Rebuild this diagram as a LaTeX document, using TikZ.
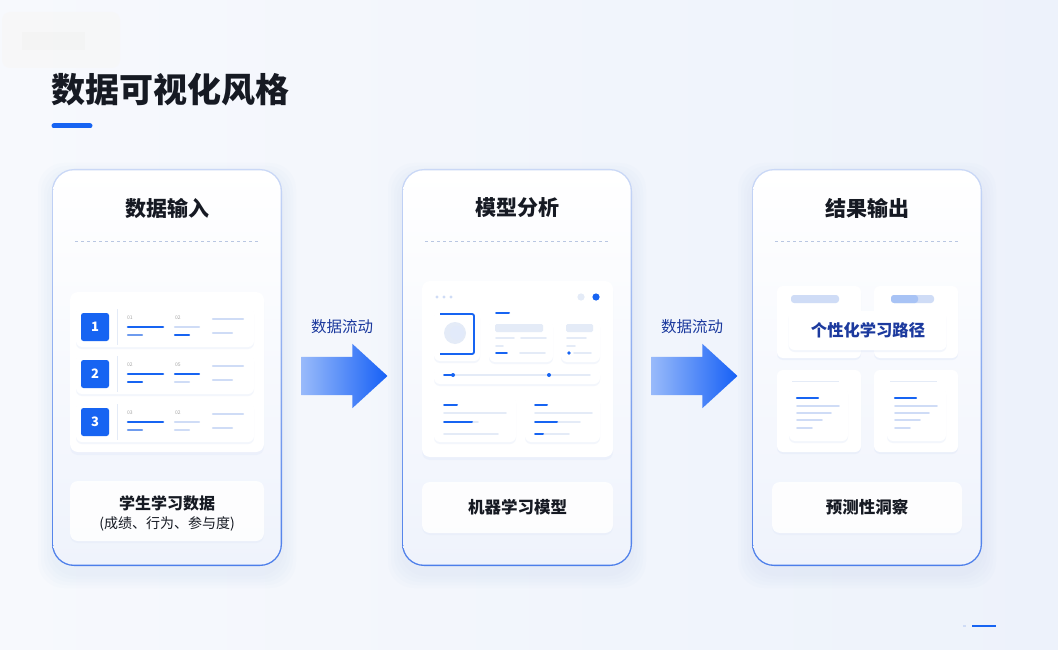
\documentclass[tikz,border=0pt]{standalone}
\usepackage{fontspec}
\setmainfont{Noto Sans CJK SC}
\usetikzlibrary{positioning,calc,shapes.arrows,shadows}

\definecolor{bgl}{HTML}{F7F9FD}
\definecolor{bgr}{HTML}{EDF2FB}
\definecolor{edgetop}{HTML}{CAD8F6}
\definecolor{edgebot}{HTML}{4C7EEA}
\definecolor{cardbot}{HTML}{EFF3FC}
\definecolor{glowc}{HTML}{C9D7F3}
\definecolor{mainblue}{HTML}{1764F2}
\definecolor{midblue}{HTML}{6E9BEE}
\definecolor{lite}{HTML}{CFDCF6}
\definecolor{pale}{HTML}{E4EBF7}
\definecolor{sepc}{HTML}{B9C7E2}
\definecolor{inkc}{HTML}{161A23}
\definecolor{navy}{HTML}{1C3A9E}
\definecolor{arrowl}{HTML}{98BAFA}
\definecolor{arrowr}{HTML}{1660F6}

\begin{document}
\begin{tikzpicture}[x=1pt, y=-1pt,
  cardedge/.style={rounded corners=22, minimum width=230, minimum height=397, inner sep=0, top color=edgetop, bottom color=edgebot, draw=none},
  cardbody/.style={rounded corners=21, minimum width=227.4, minimum height=394.4, inner sep=0, top color=white, bottom color=cardbot, draw=none},
  glow/.style={fill=glowc, opacity=0.06, rounded corners=26},
  cardtitle/.style={font=\fontsize{21}{24}\selectfont\bfseries, text=inkc, inner sep=0},
  sep/.style={draw=sepc, dash pattern=on 3pt off 3pt, line width=0.8pt},
  panel/.style={fill=white, draw=none, rounded corners=8, inner sep=0, drop shadow={shadow xshift=0pt, shadow yshift=-3pt, opacity=0.18, fill=glowc}},
  tile/.style={fill=white, draw=none, rounded corners=6, inner sep=0, drop shadow={shadow xshift=0pt, shadow yshift=-2pt, opacity=0.22, fill=glowc}},
  outbox/.style={fill=white, draw=none, rounded corners=8, inner sep=0, opacity=0.9, drop shadow={shadow xshift=0pt, shadow yshift=-2pt, opacity=0.15, fill=glowc}},
  numbox/.style={fill=mainblue, rounded corners=2.5, minimum size=28, inner sep=0, text=white, font=\fontsize{13}{13}\selectfont\bfseries},
  bar/.style={line width=2.6pt, line cap=round},
  flowarrow/.style={single arrow, draw=none, left color=arrowl, right color=arrowr, minimum height=86, inner xsep=0, inner ysep=19, single arrow head extend=13, single arrow tip angle=85},
  flowlabel/.style={font=\fontsize{15.5}{16}\selectfont, text=navy, inner sep=0},
  tiny/.style={font=\fontsize{5}{5}\selectfont, text=gray!70, inner sep=0}]

  % page and background
  \useasboundingbox (0,0) rectangle (1058,650);
  \shade[left color=bgl, right color=bgr] (0,0) rectangle (1058,650);
  \fill[black!3, opacity=0.7, rounded corners=8] (2,12) rectangle (120,68);
  \fill[black!5, opacity=0.6] (22,32) rectangle (85,50);

  % heading
  \node[anchor=west, inner sep=0, font=\fontsize{34}{38}\selectfont\bfseries, text=inkc] (head) at (51,90) {数据可视化风格};
  \draw[mainblue, line width=5pt, line cap=round] (54,126) -- (90,126);

  % the three cards
  \foreach \i/\cx/\ttl in {1/167/数据输入, 2/517/模型分析, 3/867/结果输出}
  {
    \foreach \g in {2,5,8,11,14}
      \fill[glow] (\cx-115-\g,169-\g+8) rectangle (\cx+115+\g,566+\g+8);
    \node[cardedge] (edge\i) at (\cx,367.5) {};
    \node[cardbody] (card\i) at (\cx,367.5) {};
    \node[cardtitle] (title\i) at (\cx,208) {\ttl};
    \draw[sep] (\cx-92,241) -- (\cx+92,241);
  }

  % arrows between cards
  \node[flowarrow] (flow1) at ($(card1.east)!0.5!(card2.west)+(-8,8.5)$) {};
  \node[flowarrow] (flow2) at ($(card2.east)!0.5!(card3.west)+(-8,8.5)$) {};
  \node[flowlabel] (lab1) at ($(flow1)+(8,-49)$) {数据流动};
  \node[flowlabel] (lab2) at ($(flow2)+(8,-49)$) {数据流动};

  % card 1: input table
  \node[panel, minimum width=194, minimum height=160] (inp) at (167,372) {};
  \foreach \r/\y/\ca/\cb/\cc/\cd/\la/\lb in {1/327/mainblue/midblue/lite/mainblue/01/02,
                                             2/374/mainblue/mainblue/mainblue/lite/02/05,
                                             3/422/mainblue/midblue/lite/lite/03/02}
  {
    \node[tile, minimum width=178, minimum height=40] (row\r) at (165,\y) {};
    \node[numbox] (num\r) at (95,\y) {\r};
    \draw[pale, line width=0.6pt] (117,\y-18) -- (117,\y+18);
    \node[tiny, anchor=west] at (127,\y-9) {\la};
    \node[tiny, anchor=west] at (175,\y-9) {\lb};
    \draw[bar, \ca] (128,\y) -- (163,\y);
    \draw[bar, \cb, line width=2.2pt] (128,\y+8) -- (142,\y+8);
    \draw[bar, \cc, line width=2.2pt] (175,\y) -- (199,\y);
    \draw[bar, \cd, line width=2.2pt] (175,\y+8) -- (189,\y+8);
    \draw[bar, lite, line width=2.2pt] (213,\y-8) -- (243,\y-8);
    \draw[bar, lite, line width=2.2pt] (213,\y+6) -- (232,\y+6);
  }
  \node[outbox, minimum width=194, minimum height=60] (out1) at (167,511) {};
  \node[inner sep=0, font=\fontsize{16}{18}\selectfont\bfseries, text=inkc] (res1) at (167,503) {学生学习数据};
  \node[inner sep=0, font=\fontsize{14}{16}\selectfont, text=inkc] (res1b) at (167,524) {(成绩、行为、参与度)};

  % card 2: model dashboard
  \node[panel, minimum width=191, minimum height=176] (dash) at (517.5,369) {};
  \foreach \x in {437,444,451}
    \fill[lite] (\x,297) circle (1.7);
  \fill[pale] (581,297) circle (3.6);
  \fill[mainblue] (596,297) circle (3.6);
  \node[tile, minimum width=46, minimum height=50] (icon) at (457,336) {};
  \fill[pale] (455,333) circle (11);
  \fill[lite!60] (457,333) circle (7);
  \draw[mainblue, line width=1.8pt, rounded corners=2] (440,314) -- (474,314) -- (474,354) -- (440,354);
  \node[tile, minimum width=64, minimum height=42] (stat1) at (521,341) {};
  \draw[bar, mainblue, line width=2pt] (496,313) -- (509,313);
  \fill[pale, rounded corners=1.5] (495,324) rectangle (543,332);
  \draw[bar, pale, line width=1.6pt] (496,338) -- (514,338);
  \draw[bar, pale, line width=1.6pt] (521,338) -- (546,338);
  \draw[bar, pale, line width=1.6pt] (496,346) -- (503,346);
  \draw[bar, mainblue, line width=1.6pt] (496,353) -- (507,353);
  \draw[bar, pale, line width=1.6pt] (520,353) -- (545,353);
  \node[tile, minimum width=39, minimum height=42] (stat2) at (580.5,341) {};
  \fill[pale, rounded corners=1.5] (566,324) rectangle (593,332);
  \draw[bar, pale, line width=1.6pt] (567,338) -- (586,338);
  \draw[bar, pale, line width=1.6pt] (567,346) -- (575,346);
  \fill[mainblue] (569,353) circle (1.8);
  \draw[bar, pale, line width=1.6pt] (574,353) -- (591,353);
  \node[tile, minimum width=166, minimum height=16] (track) at (517,376) {};
  \draw[bar, pale, line width=1.4pt] (444,375) -- (590,375);
  \draw[bar, mainblue, line width=1.6pt] (444,375) -- (453,375);
  \fill[mainblue] (453,375) circle (2);
  \fill[mainblue] (549,375) circle (2);
  \node[tile, minimum width=82, minimum height=46] (sub1) at (475,419) {};
  \draw[bar, mainblue, line width=2pt] (444,405) -- (457,405);
  \draw[bar, pale, line width=1.6pt] (444,413) -- (506,413);
  \draw[bar, pale, line width=1.6pt] (444,422) -- (478,422);
  \draw[bar, mainblue, line width=2pt] (444,422) -- (472,422);
  \draw[bar, pale, line width=1.6pt] (444,434) -- (498,434);
  \node[tile, minimum width=75, minimum height=46] (sub2) at (562.5,419) {};
  \draw[bar, mainblue, line width=2pt] (535,405) -- (547,405);
  \draw[bar, pale, line width=1.6pt] (535,413) -- (592,413);
  \draw[bar, pale, line width=1.6pt] (535,422) -- (580,422);
  \draw[bar, mainblue, line width=2pt] (535,422) -- (557,422);
  \draw[bar, pale, line width=1.6pt] (535,434) -- (569,434);
  \draw[bar, mainblue, line width=2pt] (535,434) -- (543,434);
  \node[outbox, minimum width=191, minimum height=51] (out2) at (517.5,507.5) {};
  \node[inner sep=0, font=\fontsize{16.5}{18}\selectfont\bfseries, text=inkc] (res2) at (517.5,507) {机器学习模型};

  % card 3: output tiles
  \node[tile, minimum width=84, minimum height=72] (t1) at (819,322) {};
  \node[tile, minimum width=84, minimum height=72] (t2) at (916,322) {};
  \node[tile, minimum width=84, minimum height=82] (t3) at (819,411) {};
  \node[tile, minimum width=84, minimum height=82] (t4) at (916,411) {};
  \fill[lite, rounded corners=3] (791,295) rectangle (839,303);
  \fill[lite, rounded corners=3] (891,295) rectangle (934,303);
  \fill[midblue!60, rounded corners=3] (891,295) rectangle (918,303);
  \node[tile, minimum width=158, minimum height=39] (path) at (867.5,330.5) {};
  \node[inner sep=0, font=\fontsize{16.3}{18}\selectfont\bfseries, text=navy] (pathtxt) at (868,330) {个性化学习路径};
  \foreach \n/\x in {1/789, 2/887}
  {
    \draw[pale, line width=0.8pt] (\x+3,381) -- (\x+50,381);
    \node[tile, minimum width=59, minimum height=54] (doc\n) at (\x+29.5,414) {};
    \draw[bar, mainblue, line width=2.2pt] (\x+8,398) -- (\x+29,398);
    \draw[bar, lite, line width=1.6pt] (\x+8,406) -- (\x+50,406);
    \draw[bar, lite, line width=1.6pt] (\x+8,413) -- (\x+42,413);
    \draw[bar, lite, line width=1.6pt] (\x+8,420) -- (\x+33,420);
    \draw[bar, lite, line width=1.6pt] (\x+8,428) -- (\x+23,428);
  }
  \node[outbox, minimum width=190, minimum height=51] (out3) at (867,507.5) {};
  \node[inner sep=0, font=\fontsize{16.5}{18}\selectfont\bfseries, text=inkc] (res3) at (867,507) {预测性洞察};

  % footer mark
  \draw[lite, line width=2pt] (963,626) -- (966,626);
  \draw[mainblue, line width=2pt] (972,626) -- (996,626);
\end{tikzpicture}
\end{document}
